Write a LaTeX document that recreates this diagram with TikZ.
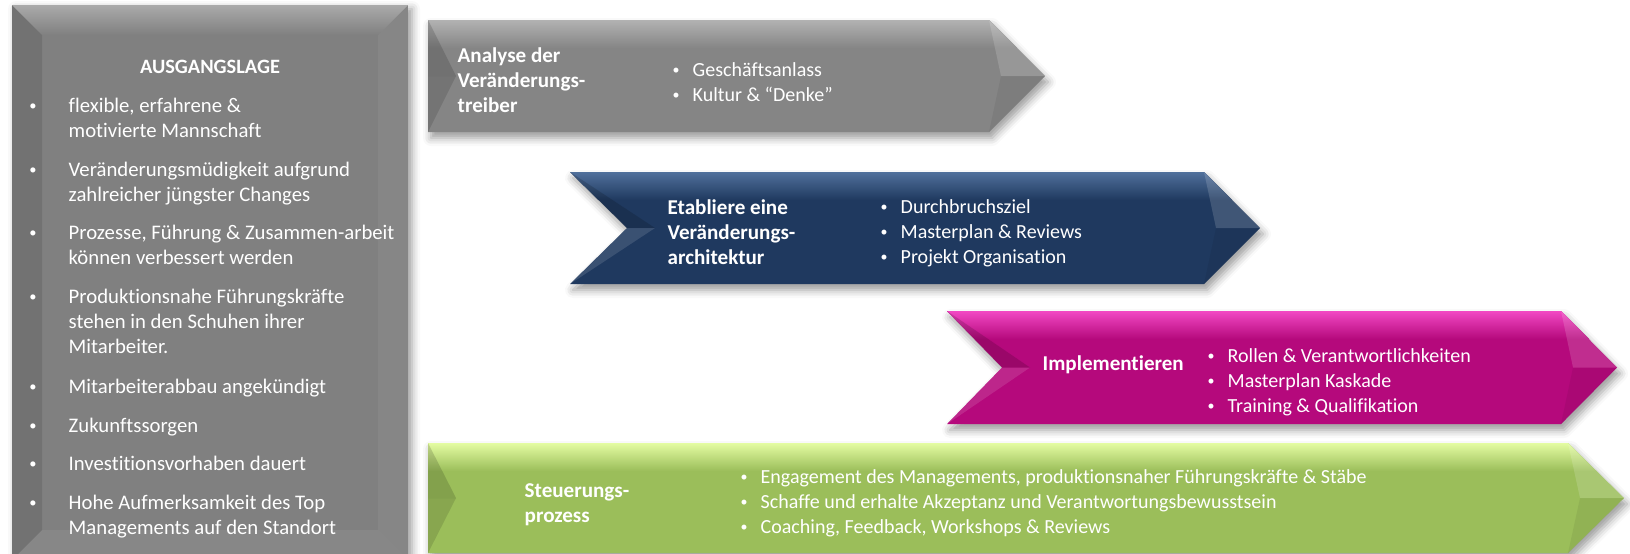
\documentclass[tikz,border=0pt]{standalone}
\usepackage{fontspec}
\setmainfont{Carlito}[Ligatures=NoCommon]
\usepackage{tikz}
\usepackage{xcolor}
\usetikzlibrary{positioning,calc,shadows.blur}
\definecolor{stonegray}{RGB}{133,133,133}
\definecolor{stonegraylight}{RGB}{178,178,178}
\definecolor{sitgray}{RGB}{128,128,128}
\definecolor{sitgraylight}{RGB}{170,170,170}
\definecolor{navyband}{RGB}{31,57,95}
\definecolor{navybandlight}{RGB}{80,112,155}
\definecolor{pinkband}{RGB}{181,9,124}
\definecolor{pinkbandlight}{RGB}{242,72,196}
\definecolor{leafband}{RGB}{155,190,90}
\definecolor{leafbandlight}{RGB}{228,252,162}

% small bullet
\newcommand{\dotmark}{\raisebox{0.5pt}{\scalebox{0.7}{\textbullet}}}
% bullet with a fixed gap
\newcommand{\bpt}{\makebox[2mm][l]{\dotmark}}

% chevron: left, top, bottom, end of body, notch depth, colour, lower facet colour
\newcommand{\chevron}[7]{%
  \pgfmathsetmacro{\chmid}{(#2+#3)/2}
  \fill[#6, blur shadow={shadow xshift=0.3mm, shadow yshift=-0.6mm, shadow blur radius=0.8mm, shadow opacity=40}]
    (#1,#2) -- (#4,#2) -- ({#4+56},\chmid) -- (#4,#3) -- (#1,#3) -- ({#1+#5},\chmid) -- cycle;
  \shade[top color=#6light, bottom color=#6]
    (#1,#2) -- (#4,#2) -- ({#4+28},{#2+28}) -- ({#1+#5/2},{#2+28}) -- cycle;
  \fill[black, opacity=.15] (#1,#2) -- ({#1+#5},\chmid) -- ({#1+#5+28},\chmid) -- cycle;
  \fill[#7, opacity=.12] ({#1+#5},\chmid) -- ({#1+#5+28},\chmid) -- (#1,#3) -- cycle;
  \fill[white, opacity=.15] (#4,#2) -- ({#4+56},\chmid) -- ({#4+12},\chmid) -- cycle;
  \fill[black, opacity=.06] ({#4+12},\chmid) -- ({#4+56},\chmid) -- (#4,#3) -- cycle;
}

\begin{document}
\begin{tikzpicture}[x=0.1mm, y=-0.1mm]
    % Define node styles (base = baseline of the last line)
    \tikzstyle{sittitle} = [font=\bfseries\fontsize{5.8}{7.11}\selectfont, text=white, anchor=base, inner sep=0pt]
    \tikzstyle{sittext} = [font=\fontsize{5.9}{7.11}\selectfont, text=white, anchor=base west, align=left, inner sep=0pt]
    \tikzstyle{sitdot} = [font=\fontsize{5.9}{7.11}\selectfont, text=white, anchor=base, inner sep=0pt]
    \tikzstyle{phasetitle} = [font=\bfseries\fontsize{6.0}{7.11}\selectfont, text=white, anchor=base west, align=left, inner sep=0pt]
    \tikzstyle{phasetext} = [font=\fontsize{5.69}{7.11}\selectfont, text=white, anchor=base west, align=left, inner sep=0pt]

    \useasboundingbox (0,0) rectangle (1630,553);

    % Ausgangslage box
    \fill[sitgray, blur shadow={shadow xshift=0.4mm, shadow yshift=-0.4mm, shadow blur radius=0.8mm, shadow opacity=40}] (12,5) rectangle (408,560);
    \shade[top color=sitgraylight, bottom color=sitgray] (12,5) -- (408,5) -- (378,35) -- (42,35) -- cycle;
    \fill[black, opacity=.1] (12,5) -- (42,35) -- (42,530) -- (12,560) -- cycle;
    \fill[white, opacity=.05] (408,5) -- (378,35) -- (378,530) -- (408,560) -- cycle;
    \fill[white, opacity=.06] (12,560) -- (42,530) -- (378,530) -- (408,560) -- cycle;

    \node[sittitle] (sit) at (210,73) {AUSGANGSLAGE};

    \node[sitdot] (dot1) at (33,112) {\dotmark};
    \node[sittext] (sit1) at (68,137) {flexible, erfahrene \&\\motivierte Mannschaft};
    \node[sitdot] (dot2) at (33,176) {\dotmark};
    \node[sittext] (sit2) at (68,201) {Veränderungsmüdigkeit aufgrund\\zahlreicher jüngster Changes};
    \node[sitdot] (dot3) at (33,239) {\dotmark};
    \node[sittext] (sit3) at (68,264) {Prozesse, Führung \& Zusammen-arbeit\\können verbessert werden};
    \node[sitdot] (dot4) at (33,303) {\dotmark};
    \node[sittext] (sit4) at (68,353) {Produktionsnahe Führungskräfte\\stehen in den Schuhen ihrer\\Mitarbeiter.};
    \node[sitdot] (dot5) at (33,393) {\dotmark};
    \node[sittext] (sit5) at (68,393) {Mitarbeiterabbau angekündigt};
    \node[sitdot] (dot6) at (33,432) {\dotmark};
    \node[sittext] (sit6) at (68,432) {Zukunftssorgen};
    \node[sitdot] (dot7) at (33,470) {\dotmark};
    \node[sittext] (sit7) at (68,470) {Investitionsvorhaben dauert};
    \node[sitdot] (dot8) at (33,509) {\dotmark};
    \node[sittext] (sit8) at (68,534) {Hohe Aufmerksamkeit des Top\\Managements auf den Standort};

    % Phase 1: Analyse
    \chevron{428}{20}{132}{989}{0}{stonegray}{black}
    \node[phasetitle] (analyse) at (457,112) {Analyse der\\Veränderungs-\\treiber};
    \node[phasetext] (analyse-list) at (672,101) {\bpt Geschäftsanlass\\\bpt Kultur \& “Denke”};

    % Phase 2: Architektur
    \chevron{570}{172}{284}{1204}{57}{navyband}{white}
    \node[phasetitle] (arch) at (667,264) {Etabliere eine\\Veränderungs-\\architektur};
    \node[phasetext] (arch-list) at (880,263) {\bpt Durchbruchsziel\\\bpt Masterplan \& Reviews\\\bpt Projekt Organisation};

    % Phase 3: Implementieren
    \chevron{947}{311}{424}{1561}{55}{pinkband}{white}
    \node[phasetitle] (impl) at (1042,370) {Implementieren};
    \node[phasetext] (impl-list) at (1207,412) {\bpt Rollen \& Verantwortlichkeiten\\\bpt Masterplan Kaskade\\\bpt Training \& Qualifikation};

    % Steuerung
    \chevron{428}{443}{553}{1568}{0}{leafband}{black}
    \node[phasetitle] (steuer) at (524,522) {Steuerungs-\\prozess};
    \node[phasetext] (steuer-list) at (740,533) {\bpt Engagement des Managements, produktionsnaher Führungskräfte \& Stäbe\\\bpt Schaffe und erhalte Akzeptanz und Verantwortungsbewusstsein\\\bpt Coaching, Feedback, Workshops \& Reviews};

\end{tikzpicture}
\end{document}
